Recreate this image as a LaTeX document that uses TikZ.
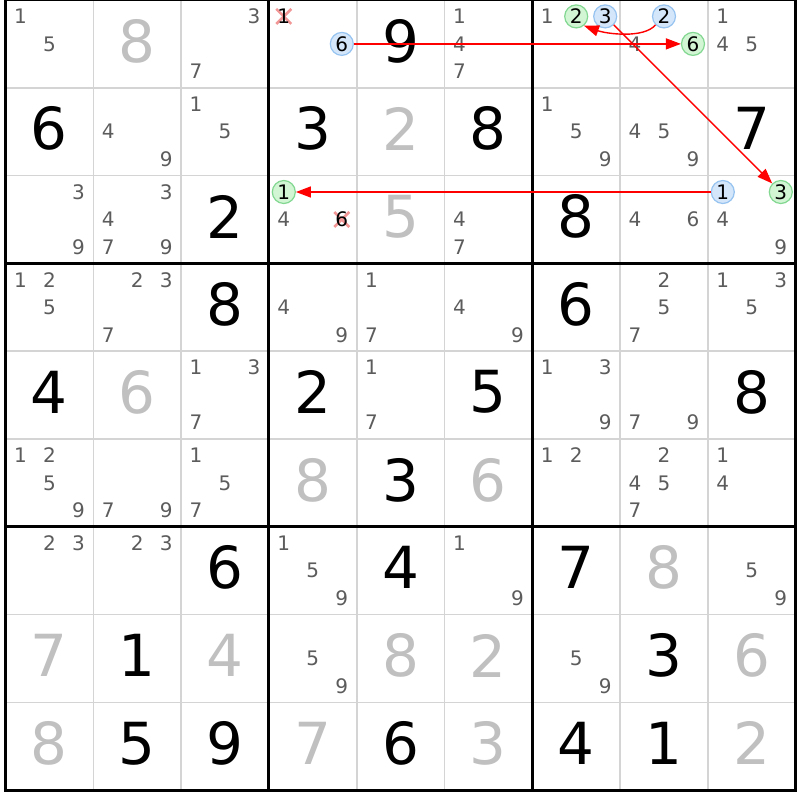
\documentclass[tikz,border=0pt]{standalone}
\usepackage{fontspec}
\setmainfont{DejaVu Sans}
\usetikzlibrary{arrows.meta}
\pgfdeclarelayer{bg}
\pgfsetlayers{bg,main}
\definecolor{candgray}{RGB}{92,92,92}
\definecolor{givengray}{RGB}{192,192,192}
\definecolor{thingrid}{RGB}{212,212,212}
\definecolor{bluefill}{RGB}{212,230,250}
\definecolor{blueline}{RGB}{150,195,240}
\definecolor{greenfill}{RGB}{210,245,212}
\definecolor{greenline}{RGB}{130,215,145}
\definecolor{xpink}{RGB}{242,150,150}
\definecolor{arrred}{RGB}{255,0,0}
\tikzset{
  bigdigit/.style={font=\fontsize{58}{58}\selectfont, inner sep=0pt},
  solved/.style={bigdigit, text=black},
  given/.style={bigdigit, text=givengray},
  cand/.style={font=\fontsize{20}{20}\selectfont, text=candgray, inner sep=0pt},
  bluecand/.style={cand, text=black, circle, draw=blueline, fill=bluefill, line width=1.2pt, minimum size=23pt},
  greencand/.style={cand, text=black, circle, draw=greenline, fill=greenfill, line width=1.2pt, minimum size=23pt},
  elimcand/.style={cand, text=black},
  chain/.style={draw=arrred, line width=1.4pt, -{Triangle[length=15pt,width=11pt]}},
  thinline/.style={draw=thingrid, line width=1.6pt},
  thickline/.style={draw=black, line width=3pt},
  xmark/.style={draw=xpink, line width=2.6pt}
}
\newcommand\PutCands[3]{\foreach \n in {#3}{\node[cand] (k#1#2\n) at ({(#2-0.5)*87.8+(mod(\n-1,3)-1)*29},{-(#1-0.5)*87.8-(div(\n-1,3)-1)*27.5}) {\n};}}
\newcommand\PutCand[4]{\node[#4] (k#1#2#3) at ({(#2-0.5)*87.8+(mod(#3-1,3)-1)*29},{-(#1-0.5)*87.8-(div(#3-1,3)-1)*27.5}) {#3};}
\newcommand\PutBig[4]{\node[#4] (v#1#2) at ({(#2-0.5)*87.8},{-(#1-0.5)*87.8+3}) {#3};}
\begin{document}
\begin{tikzpicture}[x=1pt,y=1pt]
\useasboundingbox (-5.5,-800) rectangle (794.5,0);
\begin{pgfonlayer}{bg}
\fill[white] (-5.5,-800) rectangle (794.5,0);
\foreach \i in {1,2,4,5,7,8} {
  \draw[thinline] ({\i*87.8},0) -- ({\i*87.8},-790.2);
  \draw[thinline] (0,{-\i*87.8}) -- (790.2,{-\i*87.8});
}
\foreach \i in {3,6} {
  \draw[thickline] ({\i*87.8},0) -- ({\i*87.8},-790.2);
  \draw[thickline] (0,{-\i*87.8}) -- (790.2,{-\i*87.8});
}
\draw[thickline] (0,0) rectangle (790.2,-790.2);
\end{pgfonlayer}
% big digits
\PutBig{1}{2}{8}{given}\PutBig{1}{5}{9}{solved}
\PutBig{2}{1}{6}{solved}\PutBig{2}{4}{3}{solved}\PutBig{2}{5}{2}{given}\PutBig{2}{6}{8}{solved}\PutBig{2}{9}{7}{solved}
\PutBig{3}{3}{2}{solved}\PutBig{3}{5}{5}{given}\PutBig{3}{7}{8}{solved}
\PutBig{4}{3}{8}{solved}\PutBig{4}{7}{6}{solved}
\PutBig{5}{1}{4}{solved}\PutBig{5}{2}{6}{given}\PutBig{5}{4}{2}{solved}\PutBig{5}{6}{5}{solved}\PutBig{5}{9}{8}{solved}
\PutBig{6}{4}{8}{given}\PutBig{6}{5}{3}{solved}\PutBig{6}{6}{6}{given}
\PutBig{7}{3}{6}{solved}\PutBig{7}{5}{4}{solved}\PutBig{7}{7}{7}{solved}\PutBig{7}{8}{8}{given}
\PutBig{8}{1}{7}{given}\PutBig{8}{2}{1}{solved}\PutBig{8}{3}{4}{given}\PutBig{8}{5}{8}{given}\PutBig{8}{6}{2}{given}\PutBig{8}{8}{3}{solved}\PutBig{8}{9}{6}{given}
\PutBig{9}{1}{8}{given}\PutBig{9}{2}{5}{solved}\PutBig{9}{3}{9}{solved}\PutBig{9}{4}{7}{given}\PutBig{9}{5}{6}{solved}\PutBig{9}{6}{3}{given}\PutBig{9}{7}{4}{solved}\PutBig{9}{8}{1}{solved}\PutBig{9}{9}{2}{given}
% candidates
\PutCands{1}{1}{1,5}\PutCands{1}{3}{3,7}
\PutCand{1}{4}{1}{elimcand}\PutCand{1}{4}{6}{bluecand}
\PutCands{1}{6}{1,4,7}
\PutCands{1}{7}{1}\PutCand{1}{7}{2}{greencand}\PutCand{1}{7}{3}{bluecand}
\PutCand{1}{8}{2}{bluecand}\PutCands{1}{8}{4}\PutCand{1}{8}{6}{greencand}
\PutCands{1}{9}{1,4,5}
\PutCands{2}{2}{4,9}\PutCands{2}{3}{1,5}\PutCands{2}{7}{1,5,9}\PutCands{2}{8}{4,5,9}
\PutCands{3}{1}{3,9}\PutCands{3}{2}{3,4,7,9}
\PutCand{3}{4}{1}{greencand}\PutCands{3}{4}{4}\PutCand{3}{4}{6}{elimcand}
\PutCands{3}{6}{4,7}\PutCands{3}{8}{4,6}
\PutCand{3}{9}{1}{bluecand}\PutCand{3}{9}{3}{greencand}\PutCands{3}{9}{4,9}
\PutCands{4}{1}{1,2,5}\PutCands{4}{2}{2,3,7}\PutCands{4}{4}{4,9}\PutCands{4}{5}{1,7}\PutCands{4}{6}{4,9}\PutCands{4}{8}{2,5,7}\PutCands{4}{9}{1,3,5}
\PutCands{5}{3}{1,3,7}\PutCands{5}{5}{1,7}\PutCands{5}{7}{1,3,9}\PutCands{5}{8}{7,9}
\PutCands{6}{1}{1,2,5,9}\PutCands{6}{2}{7,9}\PutCands{6}{3}{1,5,7}\PutCands{6}{7}{1,2}\PutCands{6}{8}{2,4,5,7}\PutCands{6}{9}{1,4}
\PutCands{7}{1}{2,3}\PutCands{7}{2}{2,3}\PutCands{7}{4}{1,5,9}\PutCands{7}{6}{1,9}\PutCands{7}{9}{5,9}
\PutCands{8}{4}{5,9}\PutCands{8}{7}{5,9}
% elimination crosses
\begin{pgfonlayer}{bg}
\foreach \m in {k141,k346} {
  \draw[xmark] ([shift={(-7.5,-7.5)}]\m.center) -- ([shift={(7.5,7.5)}]\m.center);
  \draw[xmark] ([shift={(-7.5,7.5)}]\m.center) -- ([shift={(7.5,-7.5)}]\m.center);
}
\end{pgfonlayer}
% chain
\draw[chain] (k146) -- (k186);
\draw[chain] (k182.-135) .. controls +(-12,-14) and +(22,-8) .. (k172.-50);
\draw[chain] (k173) -- (k393);
\draw[chain] (k391) -- (k341);
\end{tikzpicture}
\end{document}
